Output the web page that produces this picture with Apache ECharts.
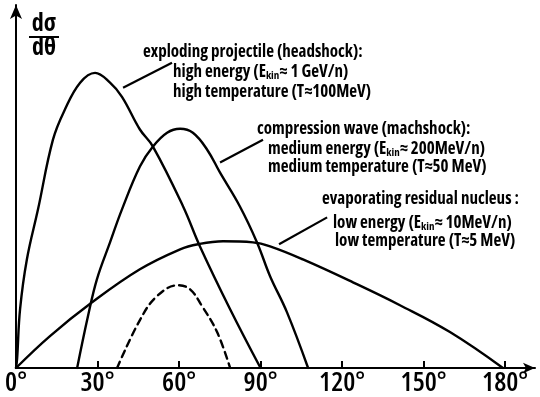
<!DOCTYPE html>
<html><head><meta charset="utf-8">
<script src="https://cdn.jsdelivr.net/npm/echarts@6/dist/echarts.min.js"></script>
<style>html,body{margin:0;padding:0;background:#fff}#c{width:540px;height:397px}</style>
</head><body><div id="c"></div>
<script>
// angle (deg), dσ/dθ (arbitrary units, 0..100)
const headshock = [[0,0],[0.4,2.5],[1.5,16.2],[4.0,29.9],[8.1,43.7],[13.6,62.9],[18.0,71.2],[23.6,78.6],[29.1,81.3],[34.6,78.6],[39.0,74.7],[45.6,65.7],[50.4,61.0],[61.5,44.5],[67.7,33.5],[78.8,16.2],[90,0]];
const machshock = [[22.5,0],[26.5,14.3],[29.8,24.5],[34.6,34.6],[39.0,43.7],[45.6,55.5],[50.4,61.0],[55.6,64.8],[60.4,65.9],[65.1,64.8],[70.3,60.2],[75.1,53.8],[82.4,44.5],[88.7,34.6],[93.5,25.3],[99.7,15.4],[107.5,0]];
const residual = [[0,0],[12.5,8.8],[28.0,18.1],[45.6,27.2],[60.4,32.7],[67.0,34.1],[76.2,34.9],[87.2,34.6],[93.5,33.5],[105.6,29.9],[124.0,23.6],[141.3,17.3],[159.7,9.9],[179.2,0]];
const dashed = [[37.2,0],[45.6,13.2],[51.9,19.8],[59.6,22.8],[64.0,21.7],[68.5,17.0],[74.0,9.9],[78.8,0]];
const xTicks = [0,30,60,90,120,150,180];
const leaderHead = [[39.4,77.2],[57.4,84.1]];
const leaderMach = [[75.1,56.6],[90.9,62.9]];
const leaderRes = [[96.8,34.1],[114.5,41.5]];

const FAM = '"Open Sans"';
const chart = echarts.init(document.getElementById('c'), null, {renderer:'canvas'});
function leader(pts){
  return {silent:true, symbol:['none','none'], label:{show:false},
    lineStyle:{color:'#000', width:2.2, type:'solid'},
    data:[[{coord:pts[0]},{coord:pts[1]}]]};
}
function curve(data, type, ml){
  const s = {type:'line', data:data, smooth:0.4, showSymbol:false, silent:true,
    lineStyle:{color:'#000', width:2.4, type:type, cap:'round', join:'round'}};
  if (type === 'dashed') s.lineStyle.type = [7,5];
  if (ml) s.markLine = leader(ml);
  return s;
}
const rich = {
  n:{fontFamily:FAM, fontStyle:'condensed', fontSize:17, fontWeight:'bold', color:'#000'},
  s:{fontFamily:FAM, fontStyle:'condensed', fontSize:11, fontWeight:'bold', color:'#000', padding:[8,0,0,0]}
};
function txt(x, y, s){
  return {type:'text', x:x, y:y, style:{text:s, rich:rich, font:'bold condensed 17px '+FAM, fill:'#000', verticalAlign:'middle', align:'left'}};
}
chart.setOption({
  animation:false,
  grid:{left:16, right:5, top:5, bottom:28},
  xAxis:{type:'value', min:0, max:191,
    axisLine:{show:true, lineStyle:{color:'#000', width:2}, symbol:['none','arrow'], symbolSize:[8,12]},
    axisTick:{show:true, inside:true, length:7, lineStyle:{color:'#000', width:2}, customValues:xTicks.slice(1)},
    axisLabel:{customValues:xTicks, formatter:v=>v+'°', color:'#000', fontFamily:FAM, fontStyle:'condensed', fontWeight:600, fontSize:27, margin:2},
    splitLine:{show:false}},
  yAxis:{type:'value', min:0, max:100,
    axisLine:{show:true, lineStyle:{color:'#000', width:2}, symbol:['none','arrow'], symbolSize:[9,14]},
    axisTick:{show:false}, axisLabel:{show:false}, splitLine:{show:false}},
  series:[
    curve(headshock,'solid',leaderHead),
    curve(machshock,'solid',leaderMach),
    curve(residual,'solid',leaderRes),
    curve(dashed,'dashed')
  ],
  graphic:[
    {type:'text', x:44, y:24, style:{text:'dσ', font:'bold condensed 24px '+FAM, fill:'#000', align:'center', verticalAlign:'middle'}},
    {type:'line', shape:{x1:29, y1:37, x2:59, y2:37}, style:{stroke:'#000', lineWidth:2}},
    {type:'text', x:44, y:48, style:{text:'dθ', font:'bold condensed 24px '+FAM, fill:'#000', align:'center', verticalAlign:'middle'}},
    txt(143, 52, '{n|exploding projectile (headshock):}'),
    txt(173, 72, '{n|high energy (E}{s|kin}{n|≈ 1 GeV/n)}'),
    txt(173, 92, '{n|high temperature (T≈100MeV)}'),
    txt(257, 129, '{n|compression wave (machshock):}'),
    txt(268, 149, '{n|medium energy (E}{s|kin}{n|≈ 200MeV/n)}'),
    txt(268, 167, '{n|medium temperature (T≈50 MeV)}'),
    txt(322, 199, '{n|evaporating residual nucleus :}'),
    txt(333, 223, '{n|low energy (E}{s|kin}{n|≈ 10MeV/n)}'),
    txt(335, 241, '{n|low temperature (T≈5 MeV)}')
  ]
});
</script></body></html>
